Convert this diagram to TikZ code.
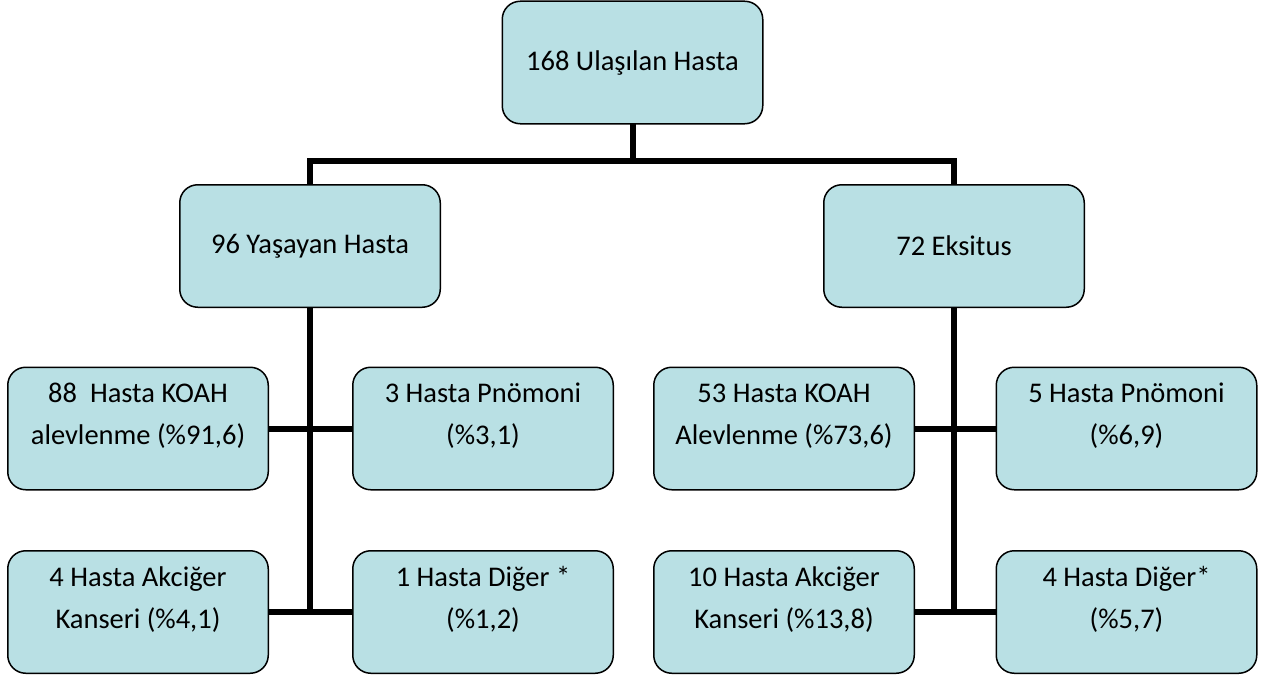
\documentclass[tikz,border=0pt]{standalone}
\usepackage{fontspec}
\setmainfont{Carlito}
\definecolor{boxfill}{RGB}{185,224,228}
\begin{document}
\begin{tikzpicture}[x=1pt,y=-1pt,
  box/.style={draw=black,line width=1.5pt,fill=boxfill,rounded corners=18pt,inner sep=0pt},
  big/.style={box,minimum width=259pt,minimum height=121pt},
  small/.style={box,minimum width=259pt,minimum height=121pt},
  txt/.style={align=center,font=\fontsize{28.5}{42}\selectfont,inner sep=0pt},
  conn/.style={line width=6pt,black}]
\useasboundingbox (0,0) rectangle (1265,677);
% connectors first (behind boxes)
\coordinate (jt) at (632.5,161);
\coordinate (jl) at (310,161);
\coordinate (jr) at (954,161);
\node[big] (top) at (632.5,62.5) {};
\node[big] (mL) at (310,246) {};
\node[big] (mR) at (954,246) {};
\node[small] (a1) at (138,428.5) {};
\node[small] (a2) at (483,428.5) {};
\node[small] (a3) at (138,612) {};
\node[small] (a4) at (483,612) {};
\node[small] (b1) at (784,428.5) {};
\node[small] (b2) at (1126.5,428.5) {};
\node[small] (b3) at (784,612) {};
\node[small] (b4) at (1126.5,612) {};
\coordinate (l1) at (310,428.5);
\coordinate (l2) at (310,612);
\coordinate (r1) at (954,428.5);
\coordinate (r2) at (954,612);
\begin{scope}[on background layer/.try]
\end{scope}
\draw[conn] (top.south) -- (jt);
\draw[conn,line cap=rect] (jl) -- (jr);
\draw[conn] (jl) -- (mL.north);
\draw[conn] (jr) -- (mR.north);
\draw[conn] (mL.south) -- (l2);
\draw[conn] (mR.south) -- (r2);
\draw[conn] (a1.east) -- (a2.west);
\draw[conn] (a3.east) -- (a4.west);
\draw[conn] (b1.east) -- (b2.west);
\draw[conn] (b3.east) -- (b4.west);
% redraw boxes over connectors
\foreach \n in {top,mL,mR,a1,a2,a3,a4,b1,b2,b3,b4}{
  \draw[line width=1.5pt,fill=boxfill,rounded corners=18pt] (\n.north west) rectangle (\n.south east);
}
\node[txt] (ttop) at (top.center) {168 Ulaşılan Hasta};
\node[txt] (tmL) at (mL.center) {96 Yaşayan Hasta};
\node[txt] (tmR) at (mR.center) {72 Eksitus};
\node[txt] (ta1) at ([yshift=12.5pt]a1.center) {88\ \ Hasta KOAH\\alevlenme (\%91,6)};
\node[txt] (ta2) at ([yshift=12.5pt]a2.center) {3 Hasta Pnömoni\\(\%3,1)};
\node[txt] (ta3) at ([yshift=12.5pt]a3.center) {4 Hasta Akciğer\\Kanseri (\%4,1)};
\node[txt] (ta4) at ([yshift=12.5pt]a4.center) {1 Hasta Diğer *\\(\%1,2)};
\node[txt] (tb1) at ([yshift=12.5pt]b1.center) {53 Hasta KOAH\\Alevlenme (\%73,6)};
\node[txt] (tb2) at ([yshift=12.5pt]b2.center) {5 Hasta Pnömoni\\(\%6,9)};
\node[txt] (tb3) at ([yshift=12.5pt]b3.center) {10 Hasta Akciğer\\Kanseri (\%13,8)};
\node[txt] (tb4) at ([yshift=12.5pt]b4.center) {4 Hasta Diğer*\\(\%5,7)};
\end{tikzpicture}
\end{document}
